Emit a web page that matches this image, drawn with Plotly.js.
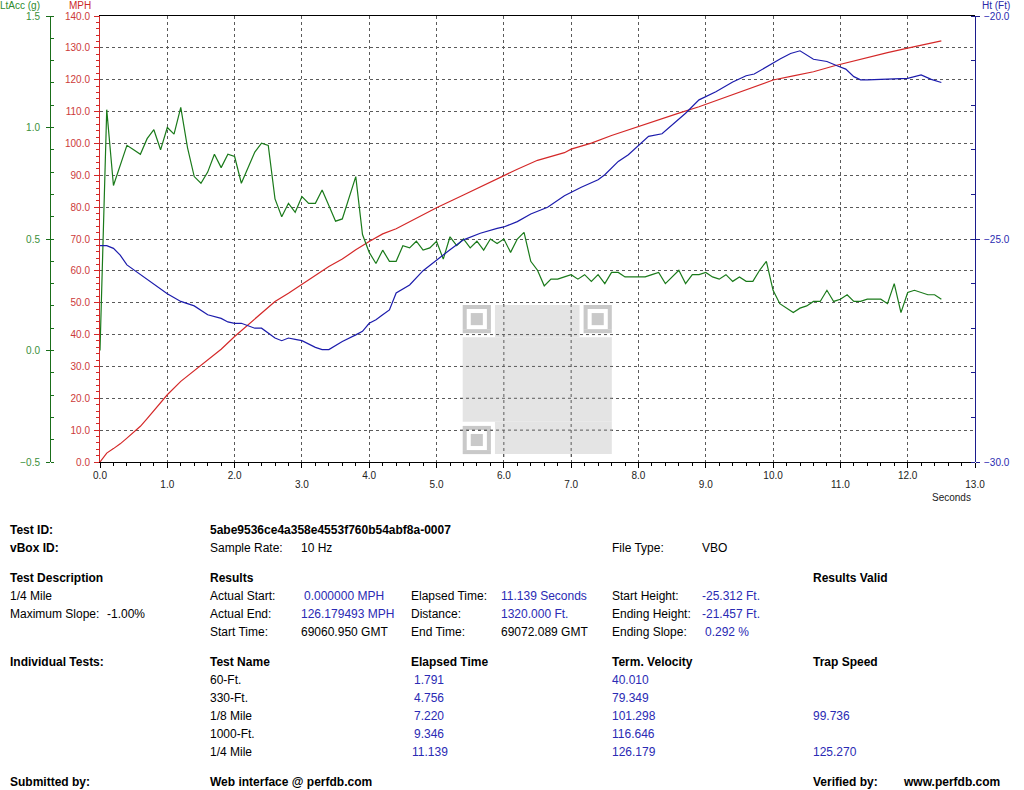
<!DOCTYPE html>
<html>
<head>
<meta charset="utf-8">
<script src="https://cdn.plot.ly/plotly-3.0.1.min.js"></script>
<style>
html,body{margin:0;padding:0;background:#fff;}
#chart{width:1024px;height:790px;}
</style>
</head>
<body>
<div id="chart"></div>
<script>
// ---------------- Data ----------------
// Speed (MPH), red
const speedTime = [0,0.1,0.2,0.3,0.4,0.5,0.6,0.7,0.8,0.9,1.0,1.2,1.4,1.6,1.8,2.0,2.2,2.4,2.6,2.8,3.0,3.2,3.4,3.6,3.8,4.0,4.2,4.4,4.7,5.0,5.4,5.7,6.0,6.2,6.5,6.9,7.0,7.3,7.6,8.0,8.3,8.6,8.9,9.2,9.4,9.7,10.0,10.3,10.6,10.9,11.2,11.4,11.7,12.0,12.2,12.5];
const speedMph = [0,2.8,4.2,5.7,7.5,9.4,11.2,13.6,16.2,18.7,21.1,25.3,28.6,32.1,35.4,39.4,43.1,46.9,50.4,53.0,55.8,58.8,61.4,63.7,66.6,69.2,71.6,73.2,76.5,79.8,83.8,86.9,89.8,91.9,94.7,97.1,98.2,100.1,102.5,105.4,107.5,109.5,111.5,113.8,115.3,117.4,119.9,121.2,122.5,124.3,125.9,127.0,128.5,129.9,130.9,132.2];

// Lateral acceleration (g), green, 10 Hz samples
const accTime = [0,0.1,0.2,0.3,0.4,0.5,0.6,0.7,0.8,0.9,1.0,1.1,1.2,1.3,1.4,1.5,1.6,1.7,1.8,1.9,2.0,2.1,2.2,2.3,2.4,2.5,2.6,2.7,2.8,2.9,3.0,3.1,3.2,3.3,3.4,3.5,3.6,3.7,3.8,3.9,4.0,4.1,4.2,4.3,4.4,4.5,4.6,4.7,4.8,4.9,5.0,5.1,5.2,5.3,5.4,5.5,5.6,5.7,5.8,5.9,6.0,6.1,6.2,6.3,6.4,6.5,6.6,6.7,6.8,6.9,7.0,7.1,7.2,7.3,7.4,7.5,7.6,7.7,7.8,7.9,8.0,8.1,8.2,8.3,8.4,8.5,8.6,8.7,8.8,8.9,9.0,9.1,9.2,9.3,9.4,9.5,9.6,9.7,9.8,9.9,10.0,10.1,10.2,10.3,10.4,10.5,10.6,10.7,10.8,10.9,11.0,11.1,11.2,11.3,11.4,11.5,11.6,11.7,11.8,11.9,12.0,12.1,12.2,12.3,12.4,12.5];
const accG = [0.00,1.08,0.74,0.83,0.92,0.90,0.88,0.95,0.99,0.90,1.00,0.97,1.09,0.91,0.78,0.75,0.80,0.88,0.82,0.88,0.87,0.75,0.82,0.89,0.93,0.92,0.68,0.60,0.66,0.62,0.69,0.66,0.66,0.72,0.65,0.58,0.59,0.68,0.78,0.52,0.44,0.39,0.45,0.40,0.40,0.47,0.46,0.49,0.45,0.46,0.49,0.41,0.51,0.47,0.50,0.46,0.49,0.45,0.50,0.48,0.50,0.44,0.50,0.53,0.40,0.36,0.29,0.32,0.32,0.33,0.34,0.32,0.34,0.31,0.34,0.30,0.35,0.35,0.33,0.33,0.33,0.33,0.34,0.35,0.30,0.33,0.36,0.30,0.34,0.34,0.35,0.33,0.32,0.34,0.31,0.33,0.31,0.31,0.36,0.40,0.27,0.21,0.19,0.17,0.19,0.20,0.22,0.22,0.27,0.22,0.23,0.25,0.22,0.22,0.23,0.23,0.23,0.21,0.30,0.17,0.26,0.27,0.26,0.25,0.25,0.23];

// Height (Ft), blue
const heightTime = [0,0.1,0.2,0.3,0.4,0.6,0.8,1.0,1.2,1.4,1.6,1.8,1.9,2.0,2.1,2.2,2.3,2.4,2.6,2.7,2.8,2.9,3.0,3.2,3.3,3.4,3.6,3.8,3.9,4.0,4.1,4.2,4.3,4.4,4.6,4.8,5.0,5.2,5.4,5.65,5.9,6.0,6.2,6.4,6.65,6.9,7.15,7.4,7.5,7.7,7.85,8.0,8.15,8.35,8.5,8.7,8.9,9.15,9.4,9.6,9.72,9.92,10.11,10.26,10.4,10.6,10.8,10.96,11.08,11.2,11.3,11.4,11.6,11.8,12.0,12.2,12.35,12.5];
const heightFt = [-25.15,-25.15,-25.21,-25.36,-25.58,-25.80,-26.03,-26.23,-26.40,-26.50,-26.70,-26.78,-26.86,-26.89,-26.89,-26.95,-27.00,-27.00,-27.22,-27.28,-27.22,-27.25,-27.28,-27.43,-27.48,-27.48,-27.30,-27.15,-27.07,-26.89,-26.81,-26.70,-26.59,-26.21,-26.03,-25.71,-25.47,-25.24,-25.02,-24.87,-24.76,-24.73,-24.61,-24.44,-24.29,-24.03,-23.84,-23.67,-23.56,-23.26,-23.11,-22.91,-22.70,-22.64,-22.44,-22.18,-21.88,-21.70,-21.48,-21.34,-21.30,-21.12,-20.96,-20.84,-20.78,-20.97,-21.02,-21.12,-21.19,-21.36,-21.43,-21.43,-21.42,-21.40,-21.40,-21.32,-21.42,-21.49];

// Tick labels
const xEvenTicks = [0,2,4,6,8,10,12];
const xEvenLabels = ["0.0","2.0","4.0","6.0","8.0","10.0","12.0"];
const xOddTicks = [1,3,5,7,9,11,13];
const xOddLabels = ["1.0","3.0","5.0","7.0","9.0","11.0","13.0"];
const xAllTicks = [0,1,2,3,4,5,6,7,8,9,10,11,12,13];

// Report text
const testId = "5abe9536ce4a358e4553f760b54abf8a-0007";
const sampleRate = "10 Hz";
const fileType = "VBO";
const testDescription = ["1/4 Mile", "Maximum Slope:", "-1.00%"];
const resultLabels1 = ["Actual Start:", "Actual End:", "Start Time:"];
const resultValues1 = ["0.000000 MPH", "126.179493 MPH", "69060.950 GMT"];
const resultLabels2 = ["Elapsed Time:", "Distance:", "End Time:"];
const resultValues2 = ["11.139 Seconds", "1320.000 Ft.", "69072.089 GMT"];
const resultLabels3 = ["Start Height:", "Ending Height:", "Ending Slope:"];
const resultValues3 = ["-25.312 Ft.", "-21.457 Ft.", "0.292 %"];
const testNames = ["60-Ft.", "330-Ft.", "1/8 Mile", "1000-Ft.", "1/4 Mile"];
const elapsedTimes = ["1.791", "4.756", "7.220", "9.346", "11.139"];
const termVelocities = ["40.010", "79.349", "101.298", "116.646", "126.179"];
const trapSpeeds = ["", "", "99.736", "", "125.270"];

// ---------------- Layout helpers ----------------
const W = 1024, H = 790, PT = 16, PB = 462, PL = 100, PR = 975;
const X_MAX = 13, MPH_MAX = 140;
const FONT = "Liberation Sans, Arial, sans-serif";
const BLUE_TXT = "#2a2ab4";
const GRID = "#5a5a5a";
function px(x){ return x / W; }
function py(y){ return (PB - y) / (PB - PT); }
const ann = [];
function txt(text, x, y, color, size, bold, anchor){
  ann.push({
    text: bold ? "<b>" + text + "</b>" : text,
    xref: "paper", yref: "paper",
    x: px(x), y: py(y),
    xanchor: anchor || "left", yanchor: "middle",
    showarrow: false, borderpad: 0, borderwidth: 0,
    font: {family: FONT, size: size || 12, color: color || "#000"}
  });
}

// Axis titles
txt("LtAcc (g)", 0, 6, "#2e8b2e", 10);
txt("MPH", 69, 6, "#cc2a2a", 10);
txt("Ht (Ft)", 982, 6, "#2a2aa8", 10);
txt("Seconds", 932, 497, "#222", 10);

// Report block
txt("Test ID:", 10, 530, "#000", 12, true);
txt(testId, 210, 530, "#000", 12, true);
txt("vBox ID:", 10, 548, "#000", 12, true);
txt("Sample Rate:", 210, 548);
txt(sampleRate, 301, 548);
txt("File Type:", 612, 548);
txt(fileType, 702, 548);

txt("Test Description", 10, 578, "#000", 12, true);
txt("Results", 210, 578, "#000", 12, true);
txt("Results Valid", 813, 578, "#000", 12, true);
txt(testDescription[0], 10, 596);
txt(testDescription[1], 10, 614);
txt(testDescription[2], 107, 614);

const rowY = [596, 614, 632];
const v1x = [303.5, 301, 301];
const v1c = [BLUE_TXT, BLUE_TXT, "#000"];
const v2c = [BLUE_TXT, BLUE_TXT, "#000"];
const v3x = [702, 702, 705];
for (let i = 0; i < 3; i++){
  txt(resultLabels1[i], 210, rowY[i]);
  txt(resultValues1[i], v1x[i], rowY[i], v1c[i]);
  txt(resultLabels2[i], 411, rowY[i]);
  txt(resultValues2[i], 501, rowY[i], v2c[i]);
  txt(resultLabels3[i], 612, rowY[i]);
  txt(resultValues3[i], v3x[i], rowY[i], BLUE_TXT);
}

txt("Individual Tests:", 10, 662, "#000", 12, true);
txt("Test Name", 210, 662, "#000", 12, true);
txt("Elapsed Time", 411, 662, "#000", 12, true);
txt("Term. Velocity", 612, 662, "#000", 12, true);
txt("Trap Speed", 813, 662, "#000", 12, true);
const testRowY = [680, 698, 716, 734, 752];
for (let i = 0; i < testNames.length; i++){
  txt(testNames[i], 210, testRowY[i]);
  txt(elapsedTimes[i], elapsedTimes[i].length > 5 ? 411.5 : 413.5, testRowY[i], BLUE_TXT);
  txt(termVelocities[i], 612, testRowY[i], BLUE_TXT);
  if (trapSpeeds[i]) txt(trapSpeeds[i], 813, testRowY[i], BLUE_TXT);
}
txt("Submitted by:", 10, 782, "#000", 12, true);
txt("Web interface @ perfdb.com", 210, 782, "#000", 12, true);
txt("Verified by:", 813, 782, "#000", 12, true);
txt("www.perfdb.com", 903, 782, "#000", 12, true);

// QR-code style watermark (no data line passes through this region)
const QR_DARK = "#c9c9c9";
const QR_MID = "#e4e4e4";
const shapes = [];
const qx = 462.7, qy = 305, m = 4.03;
function dx(x){ return (x - PL) / (PR - PL) * X_MAX; }
function dy(y){ return (PB - y) / (PB - PT) * MPH_MAX; }
function rectM(i0, j0, i1, j1, color){
  shapes.push({type: "rect", xref: "x", yref: "y", layer: "above",
    x0: dx(qx + i0*m), x1: dx(qx + i1*m), y0: dy(qy + j1*m), y1: dy(qy + j0*m),
    fillcolor: color, line: {width: 0}});
}
// data area (leaving the white separators round the finder patterns)
rectM(8, 0, 29, 8, QR_MID);
rectM(0, 8, 37, 29, QR_MID);
rectM(8, 29, 37, 37, QR_MID);
// finder patterns
[[0,0],[30,0],[0,30]].forEach(function(c){
  const a = c[0], b = c[1];
  rectM(a, b, a+7, b+1, QR_DARK);
  rectM(a, b+6, a+7, b+7, QR_DARK);
  rectM(a, b+1, a+1, b+6, QR_DARK);
  rectM(a+6, b+1, a+7, b+6, QR_DARK);
  rectM(a+2, b+2, a+5, b+5, QR_DARK);
});
// the reference shows the dashed grid running over the watermark:
// re-trace those grid lines (same axis values, same dash phase) on top of it
const qrGridX = xAllTicks.filter(function(v){ return v > dx(qx) && v < dx(qx + 37*m); });
const qrGridY = [10, 20, 30, 40].filter(function(v){ return v > dy(qy + 37*m) && v < dy(qy); });
qrGridX.forEach(function(v){
  shapes.push({type: "line", xref: "x", yref: "y", layer: "above",
    x0: v, x1: v, y0: dy(PT + 6*48), y1: dy(PT + 6*74),
    line: {color: GRID, width: 1, dash: "3px,3px"}});
});
qrGridY.forEach(function(v){
  shapes.push({type: "line", xref: "x", yref: "y", layer: "above",
    x0: dx(PL + 6*60), x1: dx(PL + 6*86), y0: v, y1: v,
    line: {color: GRID, width: 1, dash: "3px,3px"}});
});

// ---------------- Traces ----------------
const traces = [
  {type: "scatter", mode: "lines", x: speedTime, y: speedMph, xaxis: "x", yaxis: "y",
   line: {color: "#d42828", width: 1.2}, hoverinfo: "skip"},
  {type: "scatter", mode: "lines", x: accTime, y: accG, xaxis: "x", yaxis: "y2",
   line: {color: "#1a7a1a", width: 1.2}, hoverinfo: "skip"},
  {type: "scatter", mode: "lines", x: heightTime, y: heightFt, xaxis: "x2", yaxis: "y3",
   line: {color: "#1c1cac", width: 1.2}, hoverinfo: "skip"}
];

const layout = {
  width: W, height: H,
  margin: {l: 0, r: 0, t: PT, b: H - PB, pad: 0},
  paper_bgcolor: "#fff", plot_bgcolor: "#fff",
  showlegend: false, hovermode: false,
  font: {family: FONT, size: 10, color: "#222"},
  xaxis: {
    domain: [PL/W, PR/W], range: [0, X_MAX], anchor: "y",
    tickmode: "array", tickvals: xAllTicks,
    ticktext: xAllTicks.map(function(v){ const i = xEvenTicks.indexOf(v); return i >= 0 ? xEvenLabels[i] : ""; }),
    showline: true, linecolor: "#000", linewidth: 1, mirror: true,
    ticks: "outside", ticklen: 5, tickcolor: "#000", tickwidth: 1, ticklabelstandoff: -1,
    tickfont: {family: FONT, size: 10, color: "#222"},
    showgrid: true, gridcolor: GRID, griddash: "3px,3px", gridwidth: 1,
    zeroline: false, automargin: false, fixedrange: true,
    minor: {tickmode: "linear", tick0: 0, dtick: 0.2, ticks: "outside", ticklen: 3, tickcolor: "#000", showgrid: false}
  },
  xaxis2: {
    overlaying: "x", anchor: "y", side: "bottom", range: [0, X_MAX],
    tickmode: "array", tickvals: xOddTicks, ticktext: xOddLabels,
    ticks: "outside", ticklen: 5, tickcolor: "rgba(0,0,0,0)", ticklabelstandoff: 8,
    tickfont: {family: FONT, size: 10, color: "#222"},
    showline: false, showgrid: false, zeroline: false, automargin: false, fixedrange: true
  },
  yaxis: {
    domain: [0, 1], range: [0, MPH_MAX], anchor: "x", side: "left",
    tickmode: "linear", tick0: 0, dtick: 10, tickformat: ".1f",
    showline: true, linecolor: "#d42828", linewidth: 1,
    ticks: "outside", ticklen: 5, tickcolor: "#d42828", ticklabelstandoff: 2,
    tickfont: {family: FONT, size: 10, color: "#cc3a3a"},
    showgrid: true, gridcolor: GRID, griddash: "3px,3px", gridwidth: 1,
    zeroline: false, automargin: false, fixedrange: true,
    minor: {tickmode: "linear", tick0: 0, dtick: 2, ticks: "outside", ticklen: 3, tickcolor: "#d42828", showgrid: false}
  },
  yaxis2: {
    overlaying: "y", anchor: "free", position: 50/W, side: "left",
    range: [-0.5, 1.5], tickmode: "linear", tick0: -0.5, dtick: 0.5, tickformat: ".1f",
    showline: true, linecolor: "#1a6e1a", linewidth: 1,
    ticks: "outside", ticklen: 4, tickcolor: "#1a6e1a", ticklabelstandoff: 4,
    tickfont: {family: FONT, size: 10, color: "#3a8f3a"},
    showgrid: false, zeroline: false, automargin: false, fixedrange: true,
    minor: {tickmode: "linear", tick0: -0.5, dtick: 0.1, ticks: "inside", ticklen: 3, tickcolor: "#1a6e1a", showgrid: false}
  },
  yaxis3: {
    overlaying: "y", anchor: "free", position: PR/W, side: "right",
    range: [-30, -20], tickmode: "linear", tick0: -30, dtick: 5, tickformat: ".1f",
    showline: true, linecolor: "#1c1c8c", linewidth: 1,
    ticks: "outside", ticklen: 4, tickcolor: "#1c1c8c", ticklabelstandoff: 2,
    tickfont: {family: FONT, size: 10, color: "#2a2ab0"},
    showgrid: false, zeroline: false, automargin: false, fixedrange: true,
    minor: {tickmode: "linear", tick0: -30, dtick: 1, ticks: "inside", ticklen: 4, tickcolor: "#1c1c8c", showgrid: false}
  },
  annotations: ann,
  shapes: shapes
};

Plotly.newPlot("chart", traces, layout, {displayModeBar: false, staticPlot: true});
</script>
</body>
</html>
